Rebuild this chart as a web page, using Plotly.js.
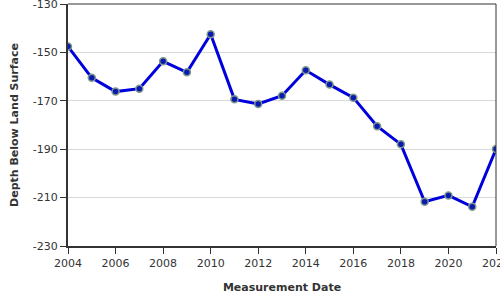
<!DOCTYPE html>
<html>
<head>
<meta charset="utf-8">
<script src="https://cdn.plot.ly/plotly-3.0.1.min.js"></script>
<style>html,body{margin:0;padding:0;background:#fff;}#chart{width:500px;height:300px;}</style>
</head>
<body>
<div id="chart"></div>
<script>
const years = [2004, 2005, 2006, 2007, 2008, 2009, 2010, 2011, 2012, 2013, 2014, 2015, 2016, 2017, 2018, 2019, 2020, 2021, 2022];
const depth = [-147.6, -160.5, -166.2, -165.0, -153.7, -158.2, -142.5, -169.4, -171.3, -167.9, -157.4, -163.3, -168.7, -180.5, -188.0, -211.7, -209.1, -213.8, -189.9];
const yTicks = [-130, -150, -170, -190, -210, -230];
const xTicks = [2004, 2006, 2008, 2010, 2012, 2014, 2016, 2018, 2020, 2022];

const font = {family: 'DejaVu Sans, Verdana, sans-serif', size: 11, color: '#333'};

Plotly.newPlot('chart', [{
  x: years, y: depth, type: 'scatter', mode: 'lines+markers',
  line: {color: '#0000dd', width: 3},
  marker: {color: '#0a1ab0', size: 7, line: {color: '#7f9a8a', width: 1.5}},
  hoverinfo: 'x+y'
}], {
  width: 500, height: 300,
  margin: {l: 68, r: 4, t: 4, b: 54},
  paper_bgcolor: '#fff', plot_bgcolor: '#fff',
  font: font,
  showlegend: false,
  xaxis: {
    range: [2004, 2022], tickvals: xTicks, ticktext: xTicks.map(String),
    ticklabeloverflow: 'allow',
    showgrid: false, zeroline: false,
    showline: true, linecolor: '#333', linewidth: 2,
    ticks: 'outside', ticklen: 6, tickcolor: '#333', tickwidth: 1,
    tickfont: font,
    title: {text: 'Measurement Date', font: {family: font.family, size: 11, color: '#333', weight: 'bold'}, standoff: 14}
  },
  yaxis: {
    range: [-230, -130], tickvals: yTicks, ticktext: yTicks.map(String),
    ticklabeloverflow: 'allow',
    showgrid: true, gridcolor: '#d9d9d9', gridwidth: 1, zeroline: false,
    showline: true, linecolor: '#333', linewidth: 2,
    ticks: 'outside', ticklen: 6, tickcolor: '#333', tickwidth: 1,
    tickfont: font,
    title: {text: 'Depth Below Land Surface', font: {family: font.family, size: 11, color: '#333', weight: 'bold'}, standoff: 12}
  },
  shapes: [
    {type: 'line', xref: 'paper', yref: 'paper', x0: 0, x1: 1, y0: 1, y1: 1, line: {color: '#333', width: 1}},
    {type: 'line', xref: 'paper', yref: 'paper', x0: 1, x1: 1, y0: 0, y1: 1, line: {color: '#333', width: 1}}
  ]
}, {displayModeBar: false});
</script>
</body>
</html>
